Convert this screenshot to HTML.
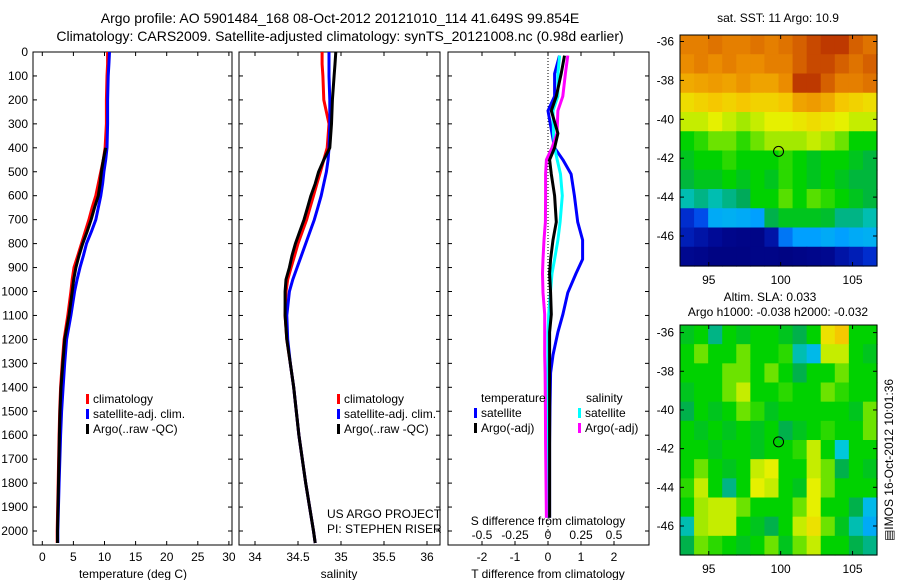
<!DOCTYPE html>
<html><head><meta charset="utf-8">
<style>
body{margin:0;background:#fff;}
svg{display:block;font-family:"Liberation Sans",sans-serif;}
text{fill:#000;}
</style></head>
<body>
<svg id="fig" width="900" height="580" viewBox="0 0 900 580" xmlns="http://www.w3.org/2000/svg">
<text x="340" y="23" font-size="14" text-anchor="middle">Argo profile: AO 5901484_168 08-Oct-2012 20121010_114 41.649S 99.854E</text>
<text x="340" y="41" font-size="14" text-anchor="middle">Climatology: CARS2009. Satellite-adjusted climatology: synTS_20121008.nc (0.98d earlier)</text>
<g id="root"></g>
</svg>
<script>
// ---- profile data ----
const depthTS = [0,50,100,200,300,400,450,500,550,600,650,700,750,800,850,900,950,1000,1100,1200,1300,1400,1500,1600,1800,2000,2050];
const tempClim = [10.5,10.5,10.4,10.3,10.3,10.1,9.8,9.4,9.0,8.6,8.0,7.5,6.9,6.3,5.7,5.1,4.8,4.6,4.1,3.5,3.2,2.95,2.8,2.7,2.55,2.4,2.4];
const tempSat = [10.8,10.7,10.6,10.5,10.5,10.4,10.2,9.9,9.7,9.4,9.0,8.6,7.9,7.1,6.6,6.06,5.6,5.2,4.6,3.9,3.6,3.35,3.1,2.95,2.7,2.5,2.5];
const tempArgo = [10.9,10.9,10.7,10.5,10.4,10.2,9.8,9.5,9.3,9.0,8.4,7.85,7.2,6.5,5.9,5.4,5.05,4.8,4.3,3.6,3.3,3.0,2.85,2.75,2.6,2.45,2.45];
const salClim = [34.78,34.78,34.79,34.80,34.86,34.84,34.80,34.76,34.72,34.68,34.64,34.60,34.55,34.50,34.46,34.42,34.38,34.36,34.35,34.37,34.41,34.45,34.48,34.51,34.59,34.68,34.70];
const salSat = [34.86,34.86,34.86,34.87,34.87,34.86,34.85,34.83,34.80,34.77,34.73,34.69,34.64,34.59,34.54,34.49,34.44,34.40,34.37,34.38,34.41,34.45,34.48,34.51,34.59,34.68,34.70];
const salArgo = [34.94,34.93,34.92,34.90,34.89,34.87,34.80,34.74,34.70,34.65,34.61,34.57,34.52,34.47,34.43,34.40,34.36,34.35,34.35,34.37,34.41,34.45,34.48,34.51,34.59,34.68,34.70];
// ---- difference data ----
const depthDiff = [15,90,185,245,340,400,450,510,600,710,785,865,925,1005,1095,1170,1265,1340,1480,1635,1790,1945];
const tDiffSat = [0.35,0.2,0.2,0.0,0.12,0.2,0.45,0.7,0.8,0.9,1.05,1.05,0.85,0.6,0.45,0.3,0.15,0.08,0.06,0.05,0.05,0.05];
const tDiffArgo = [0.5,0.4,0.25,0.1,0.3,0.2,0.05,0.1,0.2,0.25,0.15,0.08,0.05,0.08,0.1,0.05,0.05,0.05,0.05,0.05,0.05,0.05];
const sDiffSat = [0.088,0.075,0.075,0.038,0.042,0.05,0.07,0.095,0.108,0.092,0.075,0.05,0.03,0.018,0.005,0,0,0,0,-0.005,-0.008,-0.008];
const sDiffArgo = [0.15,0.132,0.112,0.075,0.068,0.03,-0.012,-0.018,-0.018,-0.02,-0.03,-0.038,-0.042,-0.038,-0.025,-0.025,-0.025,-0.022,-0.02,-0.018,-0.015,-0.012];
// ---- tick labels ----
const depthTicks = [0,100,200,300,400,500,600,700,800,900,1000,1100,1200,1300,1400,1500,1600,1700,1800,1900,2000];
const tempTicks = [0,5,10,15,20,25,30];
const salTicks = [34,34.5,35,35.5,36];
const tDiffTicks = [-2,-1,0,1,2];
const sDiffTicks = [-0.5,-0.25,0,0.25,0.5];
const lonTicks = [95,100,105];
const latTicks = [-36,-38,-40,-42,-44,-46];
// ---- map data (colormap index 0..1) ----
const sstGrid = [
[0.8,0.8,0.82,0.8,0.8,0.82,0.8,0.82,0.85,0.88,0.9,0.9,0.85,0.82],
[0.78,0.8,0.78,0.8,0.78,0.78,0.8,0.8,0.85,0.88,0.88,0.85,0.82,0.85],
[0.74,0.75,0.76,0.75,0.77,0.75,0.75,0.78,0.9,0.9,0.85,0.8,0.8,0.82],
[0.66,0.68,0.7,0.68,0.7,0.68,0.68,0.7,0.75,0.76,0.74,0.7,0.68,0.66],
[0.6,0.6,0.62,0.6,0.58,0.6,0.62,0.62,0.64,0.66,0.64,0.62,0.6,0.6],
[0.5,0.52,0.55,0.55,0.52,0.55,0.58,0.58,0.58,0.6,0.58,0.55,0.5,0.5],
[0.48,0.5,0.5,0.52,0.5,0.5,0.5,0.52,0.5,0.48,0.5,0.5,0.48,0.46],
[0.46,0.48,0.48,0.5,0.48,0.5,0.48,0.52,0.5,0.48,0.5,0.48,0.46,0.46],
[0.4,0.42,0.4,0.42,0.44,0.5,0.5,0.54,0.5,0.54,0.52,0.5,0.48,0.46],
[0.15,0.2,0.32,0.33,0.32,0.3,0.45,0.48,0.48,0.48,0.47,0.42,0.42,0.4],
[0.12,0.1,0.08,0.05,0.04,0.04,0.1,0.25,0.3,0.3,0.32,0.3,0.32,0.33],
[0.06,0.05,0.03,0.03,0.03,0.04,0.04,0.03,0.04,0.05,0.06,0.1,0.12,0.15]];
const slaGrid = [
[0.48,0.5,0.42,0.5,0.48,0.5,0.5,0.48,0.45,0.5,0.65,0.7,0.5,0.5],
[0.5,0.55,0.5,0.5,0.55,0.5,0.5,0.52,0.4,0.35,0.6,0.6,0.5,0.48],
[0.5,0.5,0.5,0.55,0.55,0.5,0.55,0.5,0.45,0.5,0.5,0.55,0.5,0.5],
[0.48,0.5,0.5,0.55,0.6,0.5,0.5,0.52,0.5,0.5,0.55,0.52,0.5,0.5],
[0.45,0.5,0.48,0.5,0.55,0.52,0.48,0.5,0.5,0.5,0.5,0.5,0.48,0.55],
[0.5,0.48,0.5,0.48,0.5,0.48,0.5,0.45,0.48,0.5,0.52,0.5,0.5,0.55],
[0.5,0.5,0.48,0.5,0.5,0.48,0.5,0.5,0.52,0.6,0.5,0.38,0.5,0.5],
[0.5,0.55,0.5,0.48,0.5,0.6,0.62,0.5,0.5,0.6,0.55,0.45,0.5,0.48],
[0.52,0.6,0.5,0.42,0.5,0.62,0.6,0.5,0.48,0.62,0.55,0.5,0.5,0.5],
[0.5,0.58,0.6,0.6,0.55,0.5,0.5,0.5,0.55,0.62,0.5,0.5,0.45,0.35],
[0.4,0.58,0.6,0.6,0.5,0.48,0.45,0.5,0.6,0.65,0.55,0.48,0.4,0.32],
[0.45,0.55,0.52,0.5,0.48,0.5,0.55,0.48,0.55,0.6,0.5,0.5,0.45,0.42]];
const argoLon = 99.854, argoLat = -41.649;

const NS='http://www.w3.org/2000/svg';
const root=document.getElementById('root');
function mk(tag,attrs,parent){const e=document.createElementNS(NS,tag);for(const k in attrs)e.setAttribute(k,attrs[k]);(parent||root).appendChild(e);return e;}
function txt(x,y,s,size,anchor,parent){const t=mk('text',{x:x,y:y,'font-size':size||12,'text-anchor':anchor||'middle'},parent);t.textContent=s;return t;}

const Y0=52, YS=0.2395, TOP=52, BOT=545;
const yD=d=>Y0+d*YS;
const xT=v=>42.3+v*6.22;
const xS=v=>255+(v-34)*86;
const xTd=v=>548+v*33;
const xSd=v=>548+v*132;

function frame(x0,x1,name){const r=mk('rect',{x:x0,y:TOP,width:x1-x0,height:BOT-TOP,fill:'none',stroke:'#000','stroke-width':1});


for(const d of depthTicks){mk('line',{x1:x0,x2:x0+4,y1:yD(d),y2:yD(d),stroke:'#000'});mk('line',{x1:x1,x2:x1-4,y1:yD(d),y2:yD(d),stroke:'#000'});}}
function line(xs,ds,xf,color,name,w){let p='';for(let i=0;i<xs.length;i++)p+=(i?'L':'M')+xf(xs[i]).toFixed(1)+' '+yD(ds[i]).toFixed(1);
const e=mk('path',{d:p,fill:'none',stroke:color,'stroke-width':w||3,'stroke-linejoin':'round'});

}
function xticks(ticks,xf,labelY,fmt){for(const t of ticks){const x=xf(t);mk('line',{x1:x,x2:x,y1:BOT,y2:BOT-4,stroke:'#000'});mk('line',{x1:x,x2:x,y1:TOP,y2:TOP+4,stroke:'#000'});
const l=txt(x,labelY,fmt?fmt(t):String(t),12);

}}
function legend(x,y,items){items.forEach((it,i)=>{mk('rect',{x:x,y:y+i*15-9,width:3,height:10,fill:it[0]});txt(x+7,y+i*15,it[1],12,'start');});}

// Panel 1 temperature
frame(33,232,'temperature-panel');
depthTicks.forEach(d=>{const l=txt(28,yD(d)+4,String(d),12,'end');

});
xticks(tempTicks,xT,561);
txt(133,578,'temperature (deg C)',12);
line(tempClim,depthTS,xT,'#f00','temp-climatology-line');
line(tempSat,depthTS,xT,'#00f','temp-satellite-line');
line(tempArgo.slice(5),depthTS.slice(5),xT,'#000','temp-argo-line');
legend(86,403,[['#f00','climatology'],['#00f','satellite-adj. clim.'],['#000','Argo(..raw -QC)']]);

// Panel 2 salinity
frame(239,440,'salinity-panel');
xticks(salTicks,xS,561);
txt(339,578,'salinity',12);
line(salClim,depthTS,xS,'#f00','sal-climatology-line');
line(salSat,depthTS,xS,'#00f','sal-satellite-line');
line(salArgo,depthTS,xS,'#000','sal-argo-line');
legend(337,403,[['#f00','climatology'],['#00f','satellite-adj. clim.'],['#000','Argo(..raw -QC)']]);
txt(327,518,'US ARGO PROJECT',12,'start');
txt(327,533,'PI: STEPHEN RISER',12,'start');

// Panel 3 differences
frame(448,649,'difference-panel');
mk('line',{x1:548,x2:548,y1:TOP,y2:BOT,stroke:'#000','stroke-dasharray':'1,2'});
xticks(tDiffTicks,xTd,561);
sDiffTicks.forEach(s=>{const l=txt(xSd(s),539,String(s),12);

});
txt(548,525,'S difference from climatology',12);
txt(548,578,'T difference from climatology',12);
line(tDiffSat,depthDiff,xTd,'#00f','t-diff-satellite-line');
line(sDiffSat,depthDiff,xSd,'#0ff','s-diff-satellite-line');
line(sDiffArgo,depthDiff,xSd,'#f0f','s-diff-argo-line');
line(tDiffArgo,depthDiff,xTd,'#000','t-diff-argo-line');
txt(481,402,'temperature',12,'start');txt(586,402,'salinity',12,'start');
legend(474,417,[['#00f','satellite'],['#000','Argo(-adj)']]);
legend(578,417,[['#0ff','satellite'],['#f0f','Argo(-adj)']]);

// Maps
const stops=[[0,[0,0,120]],[0.08,[0,10,150]],[0.18,[0,60,230]],[0.3,[0,160,255]],[0.38,[0,200,220]],[0.44,[0,170,90]],[0.5,[0,210,0]],[0.56,[130,230,0]],[0.62,[230,240,0]],[0.7,[245,200,0]],[0.78,[235,140,0]],[0.86,[210,90,0]],[0.92,[180,40,0]],[1,[150,10,0]]];
function cmap(v){for(let i=1;i<stops.length;i++){if(v<=stops[i][0]){const a=stops[i-1],b=stops[i],f=(v-a[0])/(b[0]-a[0]);const c=a[1].map((x,j)=>Math.round(x+(b[1][j]-x)*f));return 'rgb('+c+')';}}return 'rgb(150,10,0)';}
function drawMap(grid,y0,y1,latRef,name){
 const x0=680,x1=877,lonL=93.0,lonR=106.7;
 const lx=v=>x0+(v-lonL)/(lonR-lonL)*(x1-x0);
 const ly=v=>latRef[0]+(-36-v)*(latRef[1]-latRef[0])/10;
 const latTop=-36-(y0-latRef[0])*10/(latRef[1]-latRef[0]);
 const latBot=-36-(y1-latRef[0])*10/(latRef[1]-latRef[0]);
 const g=mk('g',{});
 
 
 const rows=grid.length,cols=grid[0].length;
 for(let r=0;r<rows;r++)for(let c=0;c<cols;c++){
  const la0=latTop+(latBot-latTop)*r/rows, la1=latTop+(latBot-latTop)*(r+1)/rows;
  const lo0=lonL+(lonR-lonL)*c/cols, lo1=lonL+(lonR-lonL)*(c+1)/cols;
  const cell=mk('rect',{x:lx(lo0),y:ly(la0),width:lx(lo1)-lx(lo0)+0.6,height:ly(la1)-ly(la0)+0.6,fill:cmap(grid[r][c])},g);
  
  
 }
 mk('rect',{x:x0,y:y0,width:x1-x0,height:y1-y0,fill:'none',stroke:'#000'});
 const m=mk('ellipse',{cx:lx(argoLon),cy:ly(argoLat),rx:5,ry:5,fill:'none',stroke:'#000','stroke-width':1});
 
 
 latTicks.forEach(l=>{const y=ly(l);mk('line',{x1:x0,x2:x0+4,y1:y,y2:y,stroke:'#000'});mk('line',{x1:x1,x2:x1-4,y1:y,y2:y,stroke:'#000'});
  const t=txt(674,y+4,String(l),12,'end');
  
  });
 lonTicks.forEach(l=>{const x=lx(l);mk('line',{x1:x,x2:x,y1:y1,y2:y1-4,stroke:'#000'});mk('line',{x1:x,x2:x,y1:y0,y2:y0+4,stroke:'#000'});
  const t=txt(x,y1+18,String(l),12);
  
  });
}
drawMap(sstGrid,35,266,[41.5,236],'sst-map');
drawMap(slaGrid,325,555,[332.6,526],'sla-map');
txt(778,22,'sat. SST: 11 Argo: 10.9',12);
txt(770,301,'Altim. SLA: 0.033',12);
txt(778,316,'Argo h1000: -0.038 h2000: -0.032',12);
const v=txt(0,0,'\u25A4IMOS 16-Oct-2012 10:01:36',12);
v.setAttribute('transform','translate(893,460) rotate(-90)');


</script>
</body></html>
